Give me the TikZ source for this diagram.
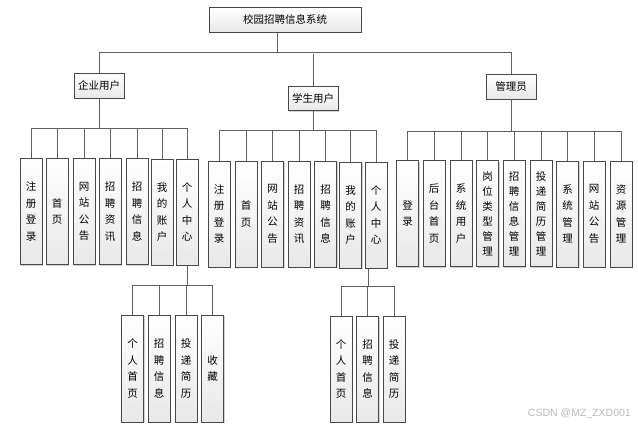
\documentclass[tikz,border=0pt]{standalone}
\usepackage{fontspec}
\newfontfamily\cjk{Noto Sans CJK SC}
\newfontfamily\wmfont{Liberation Sans}
\usetikzlibrary{shadows}
\definecolor{linec}{RGB}{95,95,95}
\definecolor{boxc}{RGB}{72,72,72}
\definecolor{wmc}{RGB}{185,185,185}
\begin{document}
\begin{tikzpicture}[x=1pt,y=-1pt,
  box/.style={draw=boxc, line width=1pt, top color=white, bottom color=black!9,
    drop shadow={shadow xshift=1.3pt, shadow yshift=-1.3pt, fill=black!35, opacity=0.5},
    inner sep=0pt, font=\cjk\fontsize{10.5}{12}\selectfont},
  topbox/.style={box, minimum width=50pt, minimum height=25pt},
  vbox/.style={box, minimum width=22pt, minimum height=106pt, align=center,
    font=\cjk\fontsize{10.5}{16.5}\selectfont},
  vboxs/.style={vbox, font=\cjk\fontsize{10.5}{15}\selectfont},
  conn/.style={draw=linec, line width=1pt}]
\useasboundingbox (0,0) rectangle (638,429);

% root and level 1
\node[box, minimum width=152pt, minimum height=25pt] (root) at (285,19.5) {校园招聘信息系统};
\node[topbox] (ent) at (99,85.5) {企业用户};
\node[topbox, minimum height=24pt] (stu) at (313,98.5) {学生用户};
\node[topbox] (adm) at (511,86.5) {管理员};

% enterprise children
\node[vbox] (e1) at (31,211.5) {注\\册\\登\\录};
\node[vbox] (e2) at (57,211.5) {首\\页};
\node[vbox] (e3) at (84,211.5) {网\\站\\公\\告};
\node[vbox] (e4) at (110,211.5) {招\\聘\\资\\讯};
\node[vbox] (e5) at (137,211.5) {招\\聘\\信\\息};
\node[vbox] (e6) at (162,212) {我\\的\\账\\户};
\node[vbox] (e7) at (187,212) {个\\人\\中\\心};

% student children
\node[vbox] (s1) at (219,214) {注\\册\\登\\录};
\node[vbox] (s2) at (246,214) {首\\页};
\node[vbox] (s3) at (272.5,214) {网\\站\\公\\告};
\node[vbox] (s4) at (299,214) {招\\聘\\资\\讯};
\node[vbox] (s5) at (325.5,214) {招\\聘\\信\\息};
\node[vbox] (s6) at (350.5,215) {我\\的\\账\\户};
\node[vbox] (s7) at (376,215) {个\\人\\中\\心};

% admin children
\node[vbox] (a1) at (407.5,213.5) {登\\录};
\node[vbox] (a2) at (434,213.5) {后\\台\\首\\页};
\node[vbox] (a3) at (461,213.5) {系\\统\\用\\户};
\node[vboxs] (a4) at (487.5,213.5) {岗\\位\\类\\型\\管\\理};
\node[vboxs] (a5) at (514,213.5) {招\\聘\\信\\息\\管\\理};
\node[vboxs] (a6) at (541,213.5) {投\\递\\简\\历\\管\\理};
\node[vbox] (a7) at (567.5,214) {系\\统\\管\\理};
\node[vbox] (a8) at (594,214) {网\\站\\公\\告};
\node[vbox] (a9) at (621,214) {资\\源\\管\\理};

% level 3 enterprise
\node[vbox, minimum height=107pt] (f1) at (132.5,368.5) {个\\人\\首\\页};
\node[vbox, minimum height=107pt] (f2) at (159,368.5) {招\\聘\\信\\息};
\node[vbox, minimum height=107pt] (f3) at (186,368.5) {投\\递\\简\\历};
\node[vbox, minimum height=107pt] (f4) at (212.5,368.5) {收\\藏};

% level 3 student
\node[vbox, minimum height=106pt] (g1) at (341,369) {个\\人\\首\\页};
\node[vbox, minimum height=106pt] (g2) at (367.5,369) {招\\聘\\信\\息};
\node[vbox, minimum height=106pt] (g3) at (394,369) {投\\递\\简\\历};

% bar coordinates
\coordinate (b0) at (277,52);
\coordinate (eb) at (99,128);
\coordinate (sb) at (313,130);
\coordinate (ab) at (511,131);
\coordinate (eb3) at (187,285);
\coordinate (sb3) at (368,286);

% root connectors
\draw[conn] (root.south -| b0) -- (b0);
\draw[conn] (ent.north) |- (adm.north |- b0) -- (adm.north);
\draw[conn] (stu.north) -- ([yshift=-2pt]stu.north |- b0);

% enterprise connectors
\draw[conn] (ent.south) -- (eb);
\draw[conn] (e1.north) |- (e7.north |- eb) -- (e7.north);
\foreach \i in {2,...,6} \draw[conn] (e\i.north) -- (e\i.north |- eb);

% student connectors
\draw[conn] (stu.south) -- (sb);
\draw[conn] (s1.north) |- (s7.north |- sb) -- (s7.north);
\foreach \i in {2,...,6} \draw[conn] (s\i.north) -- (s\i.north |- sb);

% admin connectors
\draw[conn] (adm.south) -- (ab);
\draw[conn] (a1.north) |- (a9.north |- ab) -- (a9.north);
\foreach \i in {2,...,8} \draw[conn] (a\i.north) -- (a\i.north |- ab);

% level 3 connectors
\draw[conn] (e7.south) -- (eb3);
\draw[conn] (f1.north) |- (f4.north |- eb3) -- (f4.north);
\foreach \i in {2,3} \draw[conn] (f\i.north) -- (f\i.north |- eb3);

\draw[conn] (s7.south -| sb3) -- (sb3);
\draw[conn] (g1.north) |- (g3.north |- sb3) -- (g3.north);
\draw[conn] (g2.north) -- (g2.north |- sb3);

% watermark
\node[text=wmc, font=\wmfont\fontsize{10.5}{12}\selectfont, anchor=east, inner sep=0pt] (wm) at (631,414) {CSDN @MZ\_ZXD001};
\end{tikzpicture}
\end{document}
